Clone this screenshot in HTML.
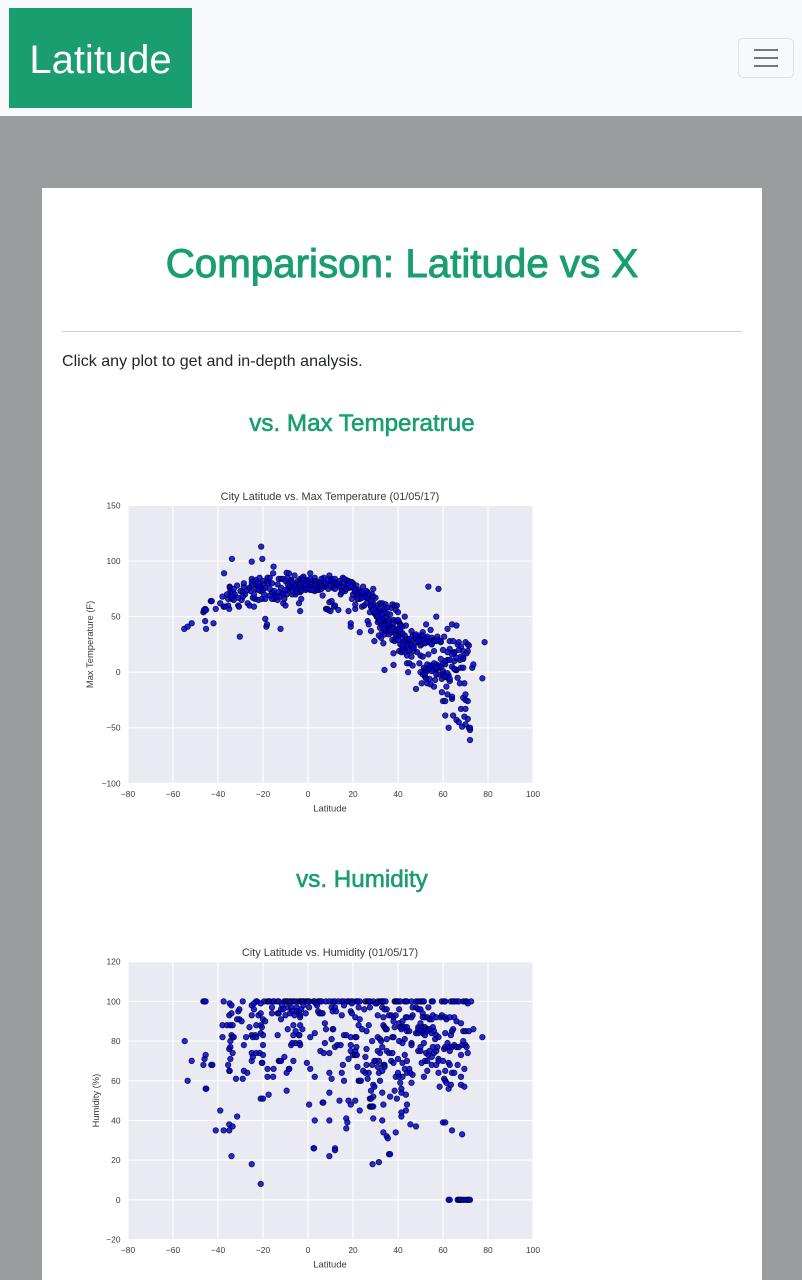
<!DOCTYPE html>
<html lang="en">
<head>
<meta charset="utf-8">
<title>Latitude</title>
<style>
html,body{margin:0;padding:0;width:802px;height:1280px;overflow:hidden;background:#9b9c9e;font-family:"Liberation Sans",sans-serif}
.abs{position:absolute;display:block}
#navbar{left:0;top:0;width:802px;height:116px;background:#f8f9fa}
#brand{left:9px;top:8px;width:183px;height:100px;background:#1a9e70;color:#fff;font-size:40px;line-height:104px;text-align:center;text-decoration:none}
#toggler{left:738px;top:38px;width:56px;height:40px;box-sizing:border-box;border:1px solid #dfe0e2;border-radius:5px;background:transparent;padding:0}
#toggler i{position:absolute;left:15px;width:24px;height:2px;background:#77787a}
#card{left:42px;top:188px;width:720px;height:1092px;background:#fff}
.g{color:#1a9e70;text-align:center;font-weight:normal;margin:0;white-space:nowrap}
#h1{left:62px;top:240px;width:680px;font-size:40.3px;line-height:48px;-webkit-text-stroke:1px #1a9e70}
#rule{left:62px;top:331px;width:680px;height:1px;background:#cfcfcf}
#intro{left:62px;top:351px;font-size:16px;line-height:22px;color:#212529;margin:0;letter-spacing:.02px}
.h3{left:62px;width:600px;font-size:24.2px;line-height:30px;-webkit-text-stroke:.6px #1a9e70}
svg{position:absolute;left:0;top:0;display:block}
text{font-family:"Liberation Sans",sans-serif;fill:#3a3a3a}
#chart{filter:blur(.35px)}
</style>
</head>
<body>
<div class="abs" id="navbar"></div>
<a class="abs" id="brand" href="#">Latitude</a>
<button class="abs" id="toggler"><i style="top:10px"></i><i style="top:18px"></i><i style="top:26px"></i></button>
<div class="abs" id="card"></div>
<h1 class="abs g" id="h1">Comparison: Latitude vs X</h1>
<div class="abs" id="rule"></div>
<p class="abs" id="intro">Click any plot to get and in-depth analysis.</p>
<h3 class="abs g h3" style="top:409px">vs. Max Temperatrue</h3>
<h3 class="abs g h3" style="top:865px">vs. Humidity</h3>
<svg id="chart" width="802" height="1280" viewBox="0 0 802 1280" xmlns="http://www.w3.org/2000/svg"></svg>
<script>
const xTickLabels = [-80,-60,-40,-20,0,20,40,60,80,100];
const tempTickLabels = [-100,-50,0,50,100,150];
const humidityTickLabels = [-20,0,20,40,60,80,100,120];

const tempLatitudes = [
-55,-53.5,-51.7,-46.5,-46.2,-46,-45.7,-45.3,-45.7,-45.3,
-43.2,-42.8,-42,-41,-39,-38,-37.5,-37.3,-37,-35.5,
-35.5,-35,-34.8,-34.7,-34.5,-34.5,-34,-33.8,-33.5,-33,
-33,-32.5,-31.5,-31,-30.7,-30.3,-30,-29.5,-29,-28.5,
-28.5,-28,-26.8,-26,-25.5,-25,-25,-25,-24.5,-24,
-24,-23.5,-23,-23,-22.5,-22,-21.5,-21.5,-21,-20.8,
-20.5,-20.3,-20,-20,-19.5,-19,-19,-18.5,-18.2,-18,
-18,-17.5,-17,-16,-16,-15.5,-15.3,-15,-14.5,-13.5,
-13.5,-13,-12.5,-12.2,-12,-11.5,-11,-11,-10.5,-10,
-10,-9.5,-9.5,-9,-9,-8.5,-8,-8,-7.5,-7,
-7,-6.5,-6,-6,-5.5,-5,-4.5,-4,-4,-3.5,
-3.5,-3.5,-3,-3,-2.5,-2.5,-2,-2,-1.5,-1,
-0.5,0,0.5,1,1,1.5,2,2.5,3,3,
3.5,4,4,4.5,5,5,5.5,6,6.5,7,
7.5,8,8.5,9,9.5,9.5,10,10,10.5,10.5,
11,11,11.5,12,12,12.5,13,13.5,14,14.5,
15,15.5,16,16.5,17,17.5,18,18,18.5,19,
19,19.5,19.5,20,20,20.5,21,21,21.5,22,
22,22.5,23,23,23.5,24,24.5,25,25.5,26,
26,26.5,26.5,27,27,27.5,28,28,28.5,29,
29,29.5,29.5,30,30,30.5,31,31,31.5,31.5,
32,32,32.5,32.5,33,33,33.5,33.5,34,34,
34,34.5,34.5,35,35,35.5,36,36,36.5,37,
37.5,37.5,38,38,38,38.5,38.5,39,39,39.5,
40,40,40.5,40.5,41,41,41.5,42,42,42.5,
43,43,43.5,43.5,44,44,44.5,45,45,45.5,
46,46,46.5,46.5,47,47.5,48,48.5,49,49.5,
50,50,50.5,50.5,51,51,51.5,51.5,52,52,
52.5,52.5,53,53,53.5,53.5,54,54.5,54.5,55,
55.5,56,56,56.5,57,57,57.5,58,58,58.5,
59,59,59.5,59.5,60,60,60.5,60.5,61,61,
61,61.5,62,62,62.5,62.5,63,63,64,64,
64.5,64.5,65,65.5,66,66,66.5,66.5,67,67.5,
67.5,68,68,68.5,69,69,69.5,69.5,70,70,
70.5,71,71,71.5,71.5,72,72,73,73.5,77.5,
78.5,51,53,49,55,48,50,52,56,57,
-25,-23,-22,-21,-20,-17,-15,-14,-10,-8,
-6,-5,-4,-3,-1,0,1,2,4,5,
6,7,8,9,10,11,12,13,14,15,
16,17,18,19,20,21,22,23,24,25,
26,27,28,29,30,31,32,33,34,35,
30,31,32,33,34,35,36,37,38,39,
36,37,38,39,40,41,42,43,44,45,
40,41,42,43,44,45,46,47,48,49,
50,51,52,53,54,55,56,57,58,59,
50,51,52,53,54,55,56,57,58,60,
60,61,62,63,64,65,66,67,68,69,
60,61,62,63,64,65,66,69,70,71,
-36,-34,-33,-31,-29,-27,-26,-24,-22,-19,
-17,-16,-13,-12,-11,-9,-7,-5,-3,-2,
1,3,6,8,9,12,14,16,18,19,
21,22,24,26,28,29,31,32,33,34,
35,36,37,38,39,40,41,42,43,44,
42,43,45,46,47,48,49,51,53,55,
53,54,55,56,57,59,61,62,63,65,
62,64,66,67,68,69,70,70,71,72
];
const tempValues = [
39,41,44,54,56,55,57,56,46,39,
64,64,44,57,62,68,59,89,59,60,
66,57,77,76,73,70,66,102,72,68,
65,70,78,60,59,32,73,65,72,77,
80,70,62,60,73,84,81,99.5,67,59,
82,66,75,83,78,65,78,85,73,113,
66,102,82,79,70,66,48,41,43,85,
82,80,69,80,72,89,95,66,70,65,
79,84,68,39,84,71,62,84,66,60,
82,89.5,70,79,74,89,82,76,83,70,
73,80,87,76,70,78,82,62,74,55,
72,84,77,66,85,80,86,75,78,74,
82,75,79,89,74,78,81,76,85,73,
82,79,74,78,81,74,78,75,69,85,
77,57,57,56,87,63,82,55,84,64,
78,76,59,81,60,79,78,56,80,70,
74,85,80,73,83,78,82,55,76,44,
41,81,66,80,70,75,57,61,78,68,
72,74,36,66,70,59,77,60,68,70,
62,46,72,43,66,54,37,59,70,75,
62,28,53,67,52,50,45,55,33,47,
62,40,50,31,62,36,26,45,53,34,
2,61,46,48,37,42,40,34,52,58,
29,61,47,17,6.5,60,28,56,38,60,
54,33,19,45,43,35,18,22,41,25,
50,20,42,28,8,15,0,27,8,24,
37,14,33,6,19,33,-15,18,32,8,
29,15,-10,25,36,14,27,4,31,-4,
43,-6,28,-10,77,16,6,38,-11,26,
29,-13,19,-7,50,7,32,75,-2,4,
27,12,-18,-6,-26,20,32,-1,-26,7,
-39,-13,39,-20,-50,-3,-8,28,43,-24,
28,-39,18,2,42,-43,25,-5,-45,-10,
11,-33,23,-49,19,-23,-10,-40,-25,27,
17,25,-42,-50,24,-52,-61,4,7,-5.5,
27,30,27,31,28,30,24,2,4,3,
78,79,80,76,74,85,73,68,74,78,
78,75,80,73,79,83,81,74,77,79,
80,78,79,75,78,82,75,80,77,72,
77,75,79,81,78,72,70,72,67,71,
67,70,64,68,58,52,55,48,57,44,
54,50,46,42,39,53,38,41,36,46,
44,36,40,33,39,37,30,24,22,19,
47,25,20,33,24,20,28,24,34,27,
33,29,26,30,27,31,28,28,29,28,
0,-2,-1,1,-6,6,2,-2,6,-3,
8,-4,11,21,5,10,2,20,4,13,
1,10,-5,11,-22,17,2,12,-20,19,
70,68,75,67,68,74,76,70,74,76,
75,66,72,76,70,85,81,72,80,83,
84,78,84,80,83,84,82,84,79,77,
74,66,72,73,60,56,60,57,52,42,
58,47,38,44,30,29,42,35,28,30,
24,18,30,25,22,30,28,33,32,25,
7,3,1,8,4,5,-4,-1,-6,3,
18,16,13,27,14,4,-33,-47,-26,-50
];

const humidityLatitudes = [
-46.5,-46,-45.5,-37.5,-29,-23,-22.7,-19.5,-18,-17.5,
-17,-15.5,-15,-13.5,-13,-10.5,-10,-9.5,-9,-8,
-7.5,-6.5,-6,-5,-3.7,-3.5,-3,-2.5,-2,-1,
-0.5,0,0.5,2.5,3,4.5,5,5.5,6,8,
9.5,11,12,13.5,15,16,17.5,18,19,20,
21.5,22,23,25.5,26.5,27,27.5,29,31,32,
32.5,33,33.5,34.5,38.5,39,39.5,40,41,43,
43.5,44,46,48,49,50,51,51.5,55,55.5,
59.5,60.5,61,63.5,64.5,65,66,67,69,70,
70.5,72.5,-34.8,-34,-25,-24,-21,-11.5,3.5,4,
19.5,30,30.5,71,16,-35,-34,-31,-30.5,-30.5,
-29.5,-31.5,-25,-24,-22,-21,-20,-19,-16,-16,
-13.5,-13,-12,-12,-11,-10,-9,-8,-7.5,-7,
-6,-5,-5,-4,-3.5,-3.5,-3,-2,-1,0.5,
4.5,5,6,6.5,10.5,11,12,12.5,15,19,
19.5,21,22.5,23,25,27.5,31,33,34,35,
33.5,36,37,38,38,39,40.5,40.5,42,43.5,
44,46,46.5,46.5,48,49,50,51,51,52,
53,53.5,54,55,55.5,57,59,59.5,61,61.5,
63,65,66,68,-38,-36,-34.5,-33.5,-23,-21,
-20.5,-6.5,-3.5,7.5,22.5,27,33.5,34,38.5,41,
42,43,44,50,49,51,52,53,55.5,34.5,
35,41.5,51,-38,-34,-34.5,-33.5,-33,-27.5,-26,
-25,-24.5,-23.5,-23,-21,-20,-13.5,-9,-6.5,-5.5,
-4,-3.8,-2.5,1,3,8,10.5,11,11.2,16,
17,19,21,21.5,24,26,28.5,31,32,32.5,
35,37.5,38,40.5,42,43,44,45,48,49,
49,50,51,52,53,54,55,56,56.5,57,
58,61,63.5,64,64.5,69,70,71.5,73.5,77.5,
-54.8,-35,-34.5,-34.5,-33.5,-28.5,-25,-25,-24.5,-23,
-21.5,-20.5,-20.3,-20,-20,-13,-12.5,-12,-10.5,-6.5,
-5.5,-7.5,-7,-3.7,-3.5,-0.5,1,5.5,7,7.5,
9.5,12,13,14.5,19,19,20,21,21,21.5,
21.7,18,15.5,25.5,26,26,28.5,29.5,30,31,
31.5,32,33,33.5,34,35,36,37.5,37,38,
40,42,43,44,46,46,49,50,50,50.5,
51.5,52,52.5,53,53.5,54,55,55.5,56,57,
57.5,58,58,60,60.5,61,62,62.5,63,64,
65,66,67,68.5,69,70,70.5,71,68,66.5,
62.5,63,-53.5,-51.7,-46.5,-46,-45.5,-43,-42.5,-35.5,
-35,-34.8,-32,-29,-28.5,-27,-18,-18,-15.5,-15.3,
-9.5,-8.5,-8.3,3,9.5,10.5,15,16,22.5,23,
23.5,24.5,25.5,26.5,27,31.5,32,33,34,31,
22,39,40,40.5,41,42,43,44,45,45.5,
46,46.5,51.5,53,55,57,58,60.5,61,61.5,
61,64,65,68,69.5,-45.5,-45.2,-21,-20,-17.5,
-9.5,9.5,6.5,6.8,14,18,19,21,23,0.5,
27.5,28,28,29,29.5,29,27.5,28,28.5,29,
33,33.5,36.5,38.5,39.5,41.5,41.5,43.5,44,43.5,
41.5,41.5,58.5,62.5,63.5,68,69.5,-39,-41,-37.5,
-35,-35,-33.5,-31.5,3,9.5,17,17.5,17,29,
33,33.5,35,35.5,39,45.5,48,60,61,64,
68.5,-34,-25,-21,2.5,2.7,9.5,12,12,28.7,
31.5,36,36.5,62.5,63,66.5,67,67.5,68,69,
70,71,71.5,72
];
const humidityValues = [
100,100,100,100,100,100,100,100,100,100,
100,100,100,100,100,100,100,100,100,100,
100,100,100,100,100,100,100,100,100,100,
100,100,100,100,100,100,100,100,100,100,
100,100,100,100,100,100,100,100,100,100,
100,100,100,100,100,100,100,100,100,100,
100,100,100,100,100,100,100,100,100,100,
100,100,100,100,100,100,100,100,100,100,
100,100,100,100,100,100,100,100,100,100,
100,100,99,98,98,99,99,98,99,98,
99,99,99,99,98,93,94,95,96,91,
90,91,93,96,93,94,91,90,97,94,
94,94,96,91,96,93,97,94,97,95,
93,97,95,95,93,92,96,98,94,97,
95,94,94,94,97,95,97,95,93,95,
94,92,97,91,96,97,93,97,96,96,
92,93,93,92,90,93,89,96,90,92,
92,92,93,97,97,96,96,94,92,92,
92,97,91,91,93,92,92,93,92,91,
92,92,90,89,88,88,88,88,88,88,
87,88,88,89,88,88,88,87,87,87,
87,87,87,89,87,87,87,86,87,86,
86,86,85,82,83,80,82,82,82,87,
83,82,83,82,84,83,83,86,83,85,
83,83,86,82,84,86,81,86,86,83,
83,82,82,82,86,85,80,82,81,80,
81,82,82,80,79,81,85,85,84,84,
86,85,84,83,85,86,84,85,81,83,
82,84,83,85,86,85,85,85,86,82,
80,76,77,71,74,78,74,70,72,74,
74,69,69,78,73,70,70,70,72,70,
79,78,79,79,78,69,66,75,74,79,
74,77,78,78,78,75,73,75,73,77,
73,71,68,72,76,68,68,70,70,75,
70,74,77,68,68,75,74,74,70,69,
71,69,73,70,79,78,75,75,77,69,
79,70,74,70,73,75,72,77,74,75,
77,71,70,70,76,77,79,77,75,77,
78,77,77,78,80,78,77,74,73,68,
69,68,60,70,68,71,73,68,68,68,
65,65,61,61,65,64,66,62,62,66,
64,66,66,62,64,61,64,60,60,60,
60,65,64,61,64,64,60,65,67,67,
67,62,64,62,59,62,66,64,66,64,
59,63,62,65,68,68,64,61,60,59,
65,64,64,62,66,56,56,51,51,53,
55,54,49,49,50,50,48,50,45,48,
51,51,55,58,57,52,47,47,47,47,
54,48,52,55,51,54,56,53,48,45,
44,42,57,56,58,58,57,45,35,35,
35,38,37,42,40,40,41,39,36,41,
40,34,32,31,34,38,37,39,39,35,
33,22,18,8,26,26,22,26,25,18,
19,23,23,0,0,0,0,0,0,0,
0,0,0,0
];

const NS = 'http://www.w3.org/2000/svg';
const root = document.getElementById('chart');

function make(parent, tag, attrs) {
  const el = document.createElementNS(NS, tag);
  for (const k in attrs) el.setAttribute(k, attrs[k]);
  parent.appendChild(el);
  return el;
}

function drawChart(cfg) {
  const g = make(root, 'g', {});
  
  
  g.style.cursor = 'pointer';

  const left = 128, right = 533;
  const xMin = xTickLabels[0], xMax = xTickLabels[xTickLabels.length - 1];
  const yMin = cfg.yTicks[0], yMax = cfg.yTicks[cfg.yTicks.length - 1];
  const xScale = v => left + (v - xMin) / (xMax - xMin) * (right - left);
  const yScale = v => cfg.bottom - (v - yMin) / (yMax - yMin) * (cfg.bottom - cfg.top);

  const bg = make(g, 'rect', {x: left, y: cfg.top, width: right - left, height: cfg.bottom - cfg.top, fill: '#eaeaf2'});
  
  

  xTickLabels.forEach(t => {
    const x = xScale(t);
    const line = make(g, 'line', {x1: x, x2: x, y1: cfg.top, y2: cfg.bottom, stroke: '#fff', 'stroke-width': 1.1});
    
    
    const label = make(g, 'text', {x: x, y: cfg.bottom + 13.5, 'font-size': 8.4, 'text-anchor': 'middle'});
    label.textContent = String(t).replace('-', '\u2212');
    
    
  });

  cfg.yTicks.forEach(t => {
    const y = yScale(t);
    const line = make(g, 'line', {x1: left, x2: right, y1: y, y2: y, stroke: '#fff', 'stroke-width': 1.1});
    
    
    const label = make(g, 'text', {x: 120.5, y: y + 3, 'font-size': 8.4, 'text-anchor': 'end'});
    label.textContent = String(t).replace('-', '\u2212');
    
    
  });

  cfg.xs.forEach((v, i) => {
    const c = make(g, 'circle', {cx: xScale(v), cy: yScale(cfg.ys[i]), r: 2.75, fill: '#0000f0', 'fill-opacity': 0.85, stroke: '#000', 'stroke-opacity': 0.8, 'stroke-width': 0.8});
    
    
  });

  const title = make(g, 'text', {x: 330, y: cfg.top - 5.5, 'font-size': 10.95, 'text-anchor': 'middle'});
  title.textContent = cfg.title;
  
  

  const xTitle = make(g, 'text', {x: 330, y: cfg.bottom + 28, 'font-size': 9.4, 'text-anchor': 'middle'});
  xTitle.textContent = 'Latitude';
  
  

  const yCenter = (cfg.top + cfg.bottom) / 2;
  const yTitle = make(g, 'text', {x: cfg.yTitleX, y: yCenter, 'font-size': 9.4, 'text-anchor': 'middle', transform: 'rotate(-90 ' + cfg.yTitleX + ' ' + yCenter + ')'});
  yTitle.textContent = cfg.yTitle;
  
  
}

drawChart({
  name: 'temperature-scatter-plot',
  title: 'City Latitude vs. Max Temperature (01/05/17)',
  yTitle: 'Max Temperature (F)',
  yTitleX: 93,
  top: 505.5,
  bottom: 783.3,
  yTicks: tempTickLabels,
  xs: tempLatitudes,
  ys: tempValues
});
drawChart({
  name: 'humidity-scatter-plot',
  title: 'City Latitude vs. Humidity (01/05/17)',
  yTitle: 'Humidity (%)',
  yTitleX: 99,
  top: 961.7,
  bottom: 1239.5,
  yTicks: humidityTickLabels,
  xs: humidityLatitudes,
  ys: humidityValues
});
</script>
</body>
</html>
